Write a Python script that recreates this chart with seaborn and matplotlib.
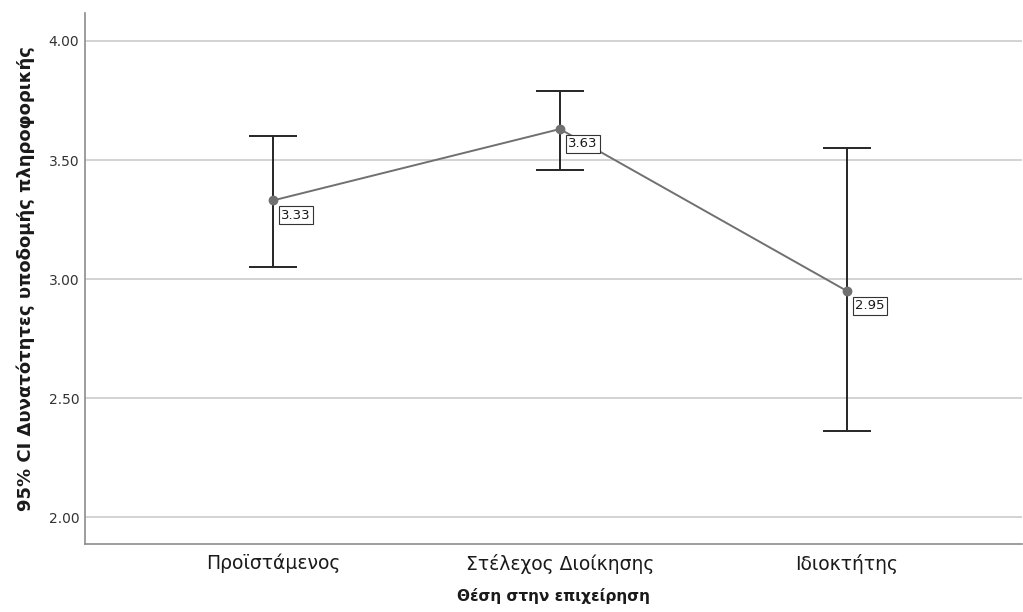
import matplotlib
matplotlib.use("Agg")
import matplotlib.pyplot as plt
import seaborn as sns
import pandas as pd

# Mean score per job position with 95% confidence interval bounds
positions = ["Προϊστάμενος", "Στέλεχος Διοίκησης", "Ιδιοκτήτης"]
means = [3.33, 3.63, 2.95]
ci_low = [3.05, 3.46, 2.36]
ci_high = [3.60, 3.79, 3.55]
y_ticks = [2.00, 2.50, 3.00, 3.50, 4.00]

sns.set_theme(style="white")
plt.rcParams["font.family"] = ["DejaVu Sans"]

df = pd.DataFrame({"position": positions, "mean": means})

fig = plt.figure(figsize=(10.23, 6.12), dpi=100)
ax = fig.add_axes([0.083, 0.111, 0.916, 0.868])

# horizontal reference lines
for t in y_ticks:
    ax.axhline(t, color="#c8c8c8", lw=1.1, zorder=0)

# confidence interval whiskers
xs = list(range(len(positions)))
lower_err = [m - lo for m, lo in zip(means, ci_low)]
upper_err = [hi - m for m, hi in zip(means, ci_high)]
ax.errorbar(xs, means, yerr=[lower_err, upper_err], fmt="none",
            ecolor="#262626", elinewidth=1.4, capsize=17, capthick=1.4, zorder=2)

# mean line with markers
sns.pointplot(data=df, x="position", y="mean", errorbar=None, color="#707070",
              markers="o", markersize=6, linewidth=1.4, ax=ax, zorder=3)

# value labels
for x, m in zip(xs, means):
    ax.annotate(f"{m:.2f}", xy=(x, m), xytext=(6, -6), textcoords="offset points",
                ha="left", va="top", fontsize=9.5, color="#1a1a1a", zorder=4,
                bbox=dict(boxstyle="square,pad=0.2", fc="white", ec="#333333", lw=0.8))

ax.set_xlim(-0.655, 2.61)
ax.set_ylim(1.887, 4.118)
ax.set_yticks(y_ticks)
ax.set_yticklabels([f"{t:.2f}" for t in y_ticks], fontsize=10, color="#333333")
ax.tick_params(axis="both", length=0)
ax.tick_params(axis="y", pad=4)
ax.tick_params(axis="x", labelsize=13.5, labelcolor="#1a1a1a", pad=7)

ax.set_xlabel("Θέση στην επιχείρηση", fontsize=11, fontweight="bold", labelpad=10, color="#1a1a1a")
ax.set_ylabel("95% CI Δυνατότητες υποδομής πληροφορικής", fontsize=13, fontweight="bold",
              labelpad=10, color="#1a1a1a")

for side in ["top", "right"]:
    ax.spines[side].set_visible(False)
for side in ["left", "bottom"]:
    ax.spines[side].set_color("#8c8c8c")
    ax.spines[side].set_linewidth(1.2)

fig.savefig("out.png", dpi=100)
